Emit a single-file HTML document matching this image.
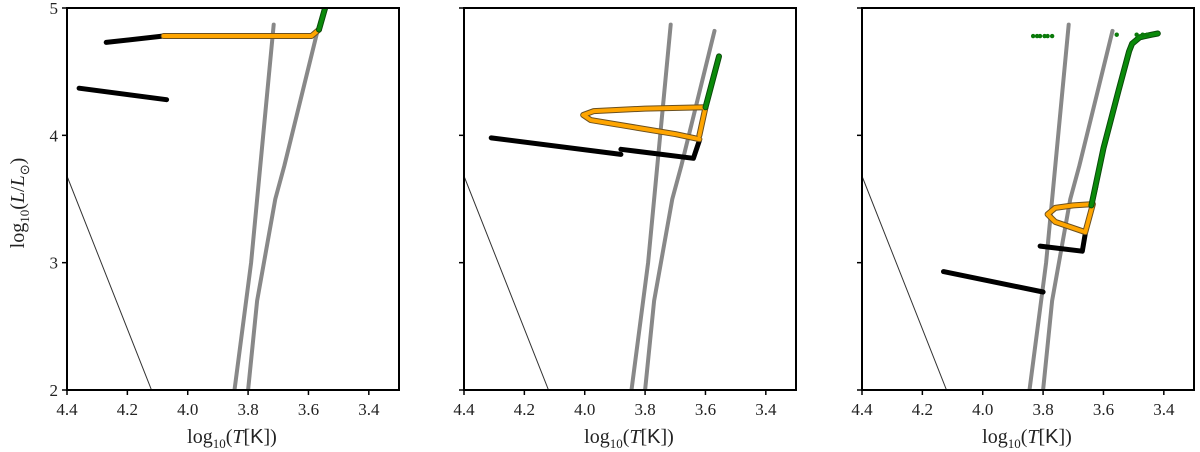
<!DOCTYPE html>
<html><head><meta charset="utf-8"><style>
body{margin:0;background:#fff;}
svg{display:block;font-family:"Liberation Serif",serif;}
</style></head><body>
<svg id="c" width="1200" height="452" viewBox="0 0 1200 452" xmlns="http://www.w3.org/2000/svg"></svg>
<script>
const xTicks=[4.4,4.2,4.0,3.8,3.6,3.4];
const xTickLabels=["4.4","4.2","4.0","3.8","3.6","3.4"];
const yTicks=[2,3,4,5];
const yTickLabels=["2","3","4","5"];
const thinLine=[[4.4,3.68],[4.12,2.0]];
const grayLine1=[[3.845,2.0],[3.79,3.0],[3.715,4.87]];
const grayLine2=[[3.80,2.0],[3.77,2.7],[3.71,3.5],[3.68,3.76],[3.57,4.82]];
const p1Black=[[[4.36,4.37],[4.07,4.28]],[[4.27,4.73],[4.08,4.78]]];
const p1Orange=[[4.08,4.78],[3.59,4.78],[3.565,4.83]];
const p1Green=[[3.565,4.83],[3.545,5.0]];
const p2Black=[[[4.31,3.98],[3.88,3.85]],[[3.88,3.89],[3.64,3.82],[3.62,3.96]]];
const p2Orange=[[3.62,3.97],[3.70,4.01],[3.88,4.08],[3.98,4.12],[4.005,4.16],[3.97,4.19],[3.80,4.21],[3.60,4.22],[3.62,4.00]];
const p2Green=[[3.60,4.22],[3.555,4.62]];
const p3Black=[[[4.13,2.93],[3.80,2.77]],[[3.81,3.13],[3.67,3.09],[3.66,3.23]]];
const p3Orange=[[3.66,3.24],[3.71,3.28],[3.76,3.32],[3.785,3.38],[3.76,3.43],[3.70,3.45],[3.635,3.46],[3.66,3.24]];
const p3OrangeSpike=[[3.64,3.45],[3.625,3.6]];
const p3Green=[[3.64,3.45],[3.60,3.9],[3.55,4.35],[3.515,4.66],[3.505,4.72],[3.48,4.77],[3.44,4.79],[3.42,4.80]];
const p3Dots=[[3.833,4.78],[3.82,4.78],[3.81,4.78],[3.795,4.78],[3.785,4.78],[3.77,4.78],[3.556,4.79],[3.49,4.79],[3.47,4.79],[3.455,4.79]];
const panelLefts=[67,464,862];
const W=332,T=8,B=390;
const svg=document.getElementById('c');
const NS='http://www.w3.org/2000/svg';
function mk(tag,attrs,parent){const e=document.createElementNS(NS,tag);for(const k in attrs)e.setAttribute(k,attrs[k]);(parent||svg).appendChild(e);return e;}
panelLefts.forEach((L,pi)=>{
  const g=mk('g',{});
  
  
  const sx=v=>L+(4.4-v)/1.1*W;
  const sy=v=>B-(v-2)/3*(B-T);
  const cp=mk('clipPath',{id:'cp'+pi},g);
  mk('rect',{x:L,y:T,width:W,height:B-T},cp);
  const inner=mk('g',{'clip-path':'url(#cp'+pi+')'},g);
  const pts=a=>a.map(p=>sx(p[0]).toFixed(1)+','+sy(p[1]).toFixed(1)).join(' ');
  function line(a,stroke,w,name){const e=mk('polyline',{points:pts(a),fill:'none',stroke:stroke,'stroke-width':w,'stroke-linejoin':'round','stroke-linecap':'round'},inner);
    
    return e;}
  line(thinLine,'#333',1,'zams-line');
  line(grayLine1,'#888',4,'instability-strip-blue-edge');
  line(grayLine2,'#888',4,'instability-strip-red-edge');
  const blacks=[p1Black,p2Black,p3Black][pi];
  blacks.forEach((b,i)=>line(b,'#000',5,'main-sequence-track-'+(i+1)));
  const oranges=[p1Orange,p2Orange,p3Orange][pi];
  const greens=[p1Green,p2Green,p3Green][pi];
  line(oranges,'#6b5020',6,'orange-track-edge');
  line(oranges,'#ffa500',4,'helium-burning-track');
  if(pi==2){line(p3OrangeSpike,'#6b5020',5,'orange-spike-edge');line(p3OrangeSpike,'#ffa500',3,'orange-spike');}
  line(greens,'#0a4a0a',6,'green-track-edge');
  line(greens,'#0a8a0a',4,'giant-branch-track');
  if(pi==2){p3Dots.forEach(d=>{const c=mk('circle',{cx:sx(d[0]),cy:sy(d[1]),r:2.2,fill:'#0a7a0a'},inner);
    
    });}
  const fr=mk('rect',{x:L,y:T,width:W,height:B-T,fill:'none',stroke:'#000','stroke-width':2},g);
  
  
  xTicks.forEach((t,i)=>{mk('line',{x1:sx(t),x2:sx(t),y1:B,y2:B+5,stroke:'#000','stroke-width':1.5},g);
    const tx=mk('text',{x:sx(t),y:B+25,'font-size':17,'text-anchor':'middle',fill:'#222'},g);tx.textContent=xTickLabels[i];
    
    });
  yTicks.forEach((t,i)=>{mk('line',{x1:L,x2:L-5,y1:sy(t),y2:sy(t),stroke:'#000','stroke-width':1.5},g);
    if(pi==0){const ty=mk('text',{x:L-9,y:sy(t)+6,'font-size':17,'text-anchor':'end',fill:'#222'},g);ty.textContent=yTickLabels[i];
    
    }});
  const xl=mk('text',{x:L+W/2-1,y:443,'font-size':20,'text-anchor':'middle',fill:'#222'},g);
  xl.innerHTML='log<tspan font-size="13" dy="5">10</tspan><tspan dy="-5">(</tspan><tspan font-style="italic">T</tspan>[<tspan font-family="Liberation Sans">K</tspan>])';
  
  
});
const yl=mk('text',{x:0,y:0,'font-size':20,'text-anchor':'middle',fill:'#222',transform:'translate(24,203) rotate(-90)'});
yl.innerHTML='log<tspan font-size="13" dy="5">10</tspan><tspan dy="-5">(</tspan><tspan font-style="italic">L</tspan>/<tspan font-style="italic">L</tspan><tspan font-size="13" dy="5">⊙</tspan><tspan dy="-5">)</tspan>';


</script>
</body></html>
